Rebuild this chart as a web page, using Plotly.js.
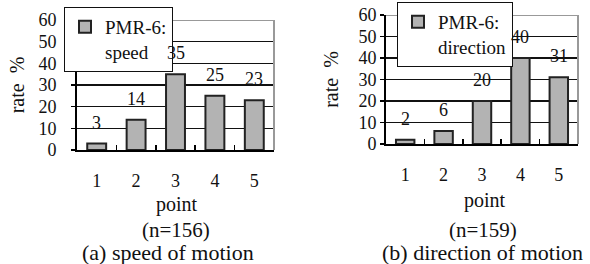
<!DOCTYPE html>
<html>
<head>
<meta charset="utf-8">
<script src="https://cdn.plot.ly/plotly-3.0.1.min.js"></script>
<style>html,body{margin:0;padding:0;background:#fff;}#chart{width:590px;height:264px;}</style>
</head>
<body>
<div id="chart"></div>
<script>
const points = ['1', '2', '3', '4', '5'];
const speedRates = [3, 14, 35, 25, 23];
const directionRates = [2, 6, 20, 40, 31];
const speedName = 'PMR-6:<br>speed';
const directionName = 'PMR-6:<br>direction';
const speedCaption = ['(n=156)', '(a) speed of motion'];
const directionCaption = ['(n=159)', '(b) direction of motion'];
const xTitle = 'point';
const yTitle = 'rate  %';
const yTicks = [0, 10, 20, 30, 40, 50, 60];

const FONT = 'Liberation Serif';
const barStyle = { color: '#b3b3b3', line: { color: '#222', width: 2 } };

const traces = [
  { type: 'bar', x: points, y: speedRates, name: speedName, marker: barStyle, width: 0.48,
    xaxis: 'x', yaxis: 'y', legend: 'legend', hoverinfo: 'x+y' },
  { type: 'bar', x: points, y: directionRates, name: directionName, marker: barStyle, width: 0.48,
    xaxis: 'x2', yaxis: 'y2', legend: 'legend2', hoverinfo: 'x+y' }
];

function xAxis(domain, anchor) {
  return {
    domain: domain, anchor: anchor, type: 'category',
    showline: true, linecolor: '#000', linewidth: 2,
    ticks: 'inside', tickson: 'boundaries', ticklen: 5, tickwidth: 1.5, tickcolor: '#000',
    ticklabelstandoff: 13, showgrid: false, zeroline: false,
    tickfont: { family: FONT, size: 18, color: '#111' }
  };
}
function yAxis(domain, anchor, labelGap, titleGap) {
  return {
    domain: domain, anchor: anchor, range: [0, 60], tickvals: yTicks,
    showgrid: true, gridcolor: '#111', gridwidth: 1.6,
    showline: true, linecolor: '#000', linewidth: 2,
    ticks: 'outside', ticklen: 4, tickcolor: '#000', tickwidth: 1.5,
    ticklabelstandoff: labelGap,
    zeroline: false, fixedrange: true,
    tickfont: { family: FONT, size: 18, color: '#111' },
    title: { text: yTitle, font: { family: FONT, size: 20, color: '#111' }, standoff: titleGap }
  };
}

const annotations = [];
function addLabels(vals, xr, yr) {
  vals.forEach((v, i) => {
    annotations.push({ xref: xr, yref: yr, x: i, y: v, yshift: 21, text: String(v),
      showarrow: false, font: { family: FONT, size: 18, color: '#111' } });
  });
}
addLabels(speedRates, 'x', 'y');
addLabels(directionRates, 'x2', 'y2');

function addText(text, xc, yc, size) {
  annotations.push({ xref: 'paper', yref: 'paper', x: xc / 590, y: 1 - yc / 264, text: text,
    showarrow: false, xanchor: 'center', yanchor: 'middle', font: { family: FONT, size: size, color: '#111' } });
}
addText(xTitle, 177, 204, 20);
addText(xTitle, 485, 200, 20);
addText(speedCaption[0], 176, 230, 21);
addText(speedCaption[1], 168, 252, 22);
addText(directionCaption[0], 483, 230, 21);
addText(directionCaption[1], 482, 252, 22);

const shapes = [];
['x', 'x2'].forEach((xa, k) => {
  const ya = k === 0 ? 'y' : 'y2';
  shapes.push({ type: 'line', xref: xa + ' domain', yref: ya, x0: 0, x1: 1, y0: 60, y1: 60,
    line: { color: '#999', width: 2 }, layer: 'above' });
  shapes.push({ type: 'line', xref: xa + ' domain', yref: ya, x0: 1, x1: 1, y0: 0, y1: 60,
    line: { color: '#999', width: 2 }, layer: 'above' });
});

const legendStyle = (x, y) => ({
  x: x, y: y, xref: 'paper', yref: 'paper', xanchor: 'left', yanchor: 'top',
  bgcolor: '#fff', bordercolor: '#111', borderwidth: 1, valign: 'top',
  font: { family: FONT, size: 19, color: '#111' }, tracegroupgap: 0
});

const layout = {
  width: 590, height: 264,
  margin: { l: 0, r: 0, t: 0, b: 0 },
  paper_bgcolor: '#fff', plot_bgcolor: '#fff',
  showlegend: true,
  xaxis: xAxis([77 / 590, 274 / 590], 'y'),
  yaxis: yAxis([(264 - 150) / 264, (264 - 20) / 264], 'x', 11, 8),
  xaxis2: xAxis([386 / 590, 578 / 590], 'y2'),
  yaxis2: yAxis([(264 - 144) / 264, (264 - 15) / 264], 'x2', 0, 14),
  legend: legendStyle(64 / 590, 1 - 7 / 264),
  legend2: legendStyle(397 / 590, 1 - 2 / 264),
  annotations: annotations,
  shapes: shapes,
  bargap: 0.5
};

Plotly.newPlot('chart', traces, layout, { displayModeBar: false, staticPlot: true });
</script>
</body>
</html>
